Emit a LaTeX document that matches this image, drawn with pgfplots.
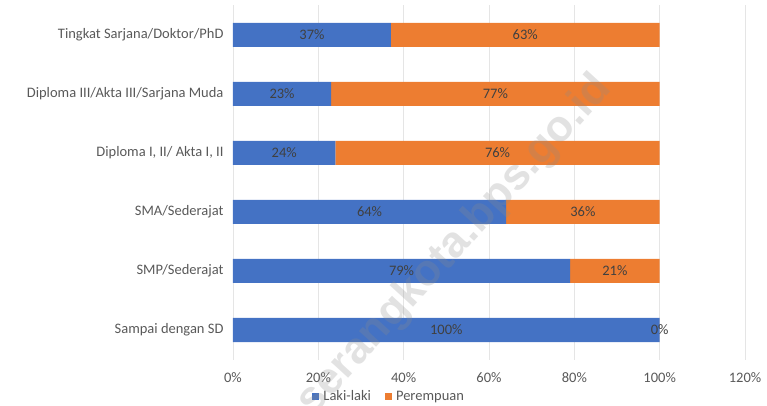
\documentclass[border=0pt]{standalone}
\usepackage{fontspec}
\setmainfont{Carlito}
\newfontfamily\wmfont{Liberation Sans}
\usepackage{pgfplots}
\usepackage{pgfplotstable}
\pgfplotsset{compat=1.18}

\definecolor{lakiBlue}{RGB}{68,114,196}
\definecolor{perOrange}{RGB}{237,125,49}
\definecolor{txtGray}{RGB}{89,89,89}
\definecolor{lblGray}{RGB}{64,64,64}

% pendidikan: 0 = Sampai dengan SD ... 5 = Sarjana/Doktor/PhD
\pgfplotstableread{
cat lk  pr
0   100 0.001
1   79  21
2   64  36
3   24  76
4   23  77
5   37  63
}\datapendidikan

\begin{document}
\begin{tikzpicture}[font=\fontsize{14.5}{17}\selectfont]
    \useasboundingbox (-233pt,-46.5pt) rectangle (534pt,359.5pt);
    \begin{axis}[
        at={(0,0)}, anchor=south west,
        scale only axis, width=512pt, height=354pt,
        xbar stacked, bar width=24pt,
        xmin=0, xmax=120, ymin=-0.5, ymax=5.5,
        xtick={0,20,...,120},
        xticklabel={\pgfmathprintnumber{\tick}\%},
        ytick={0,...,5},
        yticklabels={Sampai dengan SD, SMP/Sederajat, SMA/Sederajat,
            {Diploma I, II/ Akta I, II}, Diploma III/Akta III/Sarjana Muda,
            Tingkat Sarjana/Doktor/PhD},
        axis line style={draw=none},
        major tick length=0pt,
        xmajorgrids, grid style={black!10, line width=0.6pt},
        tick label style={text=txtGray},
        xticklabel style={yshift=-10pt},
        yticklabel style={xshift=-6pt},
        /pgf/number format/assume math mode=true,
        legend style={at={(0.307,0)}, anchor=center, yshift=-37pt,
            legend columns=2, draw=none, fill=none, text=txtGray,
            nodes={inner xsep=4pt},
            /tikz/every even column/.style={column sep=10pt}},
        legend image code/.code={\fill[#1,draw=none] (0pt,-3.5pt) rectangle (7pt,3.5pt);},
        nodes near coords={\pgfmathprintnumber[fixed,precision=0]{\rawx}\%},
        every node near coord/.append style={text=lblGray, anchor=center},
    ]
        \addplot[fill=lakiBlue, draw=none,
            visualization depends on={\thisrow{lk} \as \rawx}]
            table[x=lk, y=cat] {\datapendidikan};
        \addlegendentry{Laki-laki}
        \addplot[fill=perOrange, draw=none,
            visualization depends on={\thisrow{pr} \as \rawx}]
            table[x=pr, y=cat] {\datapendidikan};
        \addlegendentry{Perempuan}
    \end{axis}
    % watermark
    \node[rotate=47.5, text=black!45, opacity=0.25,
        font=\fontsize{44}{48}\selectfont\wmfont\bfseries] at (222pt,114pt) {serangkota.bps.go.id};
\end{tikzpicture}
\end{document}
